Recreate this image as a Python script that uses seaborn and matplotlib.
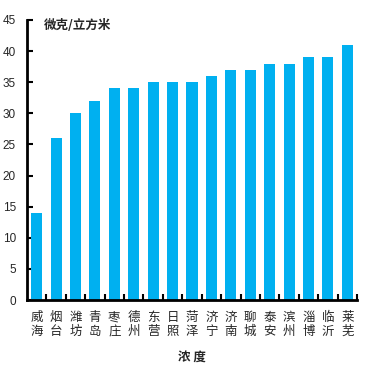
import matplotlib
matplotlib.use("Agg")
import matplotlib.pyplot as plt
import seaborn as sns
import pandas as pd

cities = ["威海", "烟台", "潍坊", "青岛", "枣庄", "德州", "东营", "日照", "菏泽",
          "济宁", "济南", "聊城", "泰安", "滨州", "淄博", "临沂", "莱芜"]
values = [14, 26, 30, 32, 34, 34, 35, 35, 35, 36, 37, 37, 38, 38, 39, 39, 41]

df = pd.DataFrame({"city": cities, "value": values})

sns.set_theme(style="white")
plt.rcParams["font.family"] = ["Noto Sans CJK SC", "DejaVu Sans"]

fig = plt.figure(figsize=(3.7, 3.7), dpi=100)
ax = fig.add_axes([0.073, 0.189, 0.892, 0.757])

sns.barplot(data=df, x="city", y="value", color="#00B0F0", width=0.57,
            saturation=1, linewidth=0, ax=ax)

ax.set_ylim(0, 45)
ax.set_yticks(range(0, 50, 5))
ax.set_xlim(-0.5, len(cities) - 0.5)

ax.set_xticks(range(len(cities)))
ax.set_xticklabels(["\n".join(c) for c in cities], fontsize=9, linespacing=1.1)
ax.set_xticks([i + 0.5 for i in range(len(cities))], minor=True)
ax.tick_params(axis="x", which="major", length=0, pad=8)
ax.tick_params(axis="x", which="minor", direction="in", length=4, width=1.5, color="black", bottom=True)
ax.tick_params(axis="y", direction="in", length=4, width=1.5, color="black", left=True,
               labelsize=8.5, pad=8)
for lbl in ax.get_yticklabels():
    lbl.set_fontfamily(["Liberation Sans", "DejaVu Sans"])

for side in ["top", "right"]:
    ax.spines[side].set_visible(False)
for side in ["left", "bottom"]:
    ax.spines[side].set_linewidth(2)
    ax.spines[side].set_color("black")

ax.set_ylabel("")
ax.set_xlabel("浓 度", fontsize=9, fontweight="bold", labelpad=10)
ax.text(0.05, 1.005, "微克/立方米", transform=ax.transAxes, fontsize=9,
        fontweight="bold", va="top", ha="left")

fig.savefig("out.png", dpi=100)
